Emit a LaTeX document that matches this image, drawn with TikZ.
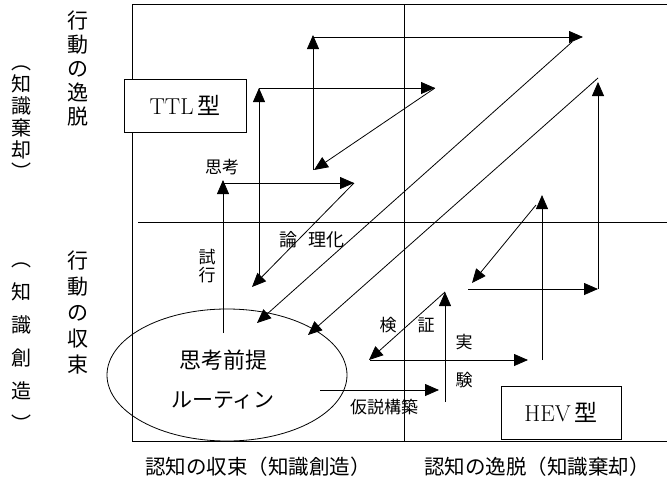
\documentclass[tikz,border=0pt]{standalone}
\usepackage{fontspec}
\newfontfamily\jp{Noto Sans CJK JP}
\usetikzlibrary{arrows.meta,shapes.geometric}
\begin{document}
\begin{tikzpicture}[x=1pt,y=-1pt,
  ln/.style={line width=0.8pt,black},
  arr/.style={ln,-{Triangle[length=14pt,width=12pt]}},
  boxnode/.style={draw,fill=white,line width=0.8pt,inner sep=0pt,minimum width=122pt,minimum height=53pt,font=\fontsize{23}{23}\selectfont},
  lab/.style={inner sep=0pt,font=\jp\fontsize{17}{17}\selectfont},
  biglab/.style={inner sep=0pt,font=\jp\fontsize{22}{22}\selectfont},
  vlab/.style={inner sep=0pt,align=center,font=\jp\fontsize{21}{24}\selectfont},
  plab/.style={inner sep=0pt,align=center,font=\jp\fontsize{20}{22}\selectfont},
  axlab/.style={inner sep=0pt,anchor=west,font=\jp\fontsize{20.5}{20.5}\selectfont}]
\useasboundingbox (0,0) rectangle (667,485);
% frame and dividers
\coordinate (ftr) at (667,4);
\coordinate (ftl) at (132,4);
\coordinate (fbl) at (132,441);
\coordinate (fbr) at (667,441);
\coordinate (vdt) at (404,4);
\coordinate (vdb) at (404,441);
\coordinate (hdl) at (138,222);
\coordinate (hdr) at (667,222);
\draw[ln] (ftr) -- (ftl) -- (fbl) -- (fbr);
\draw[ln] (vdt) -- (vdb);
\draw[ln] (hdl) -- (hdr);
% boxes
\node[boxnode] (ttl) at (185,105.5) {TTL\,{\jp 型}};
\node[boxnode,minimum width=120pt] (hev) at (561,412.5) {HEV\,{\jp 型}};
% ellipse
\node[draw,ellipse,line width=0.8pt,minimum width=240pt,minimum height=132pt,inner sep=0pt] (el) at (227,375) {};
\node[biglab] (premise) at (223,360) {思考前提};
\node[biglab,font=\jp\fontsize{21}{21}\selectfont] (routine) at (223,400) {ルーティン};
% coordinates
\coordinate (a1) at (223,333);
\coordinate (a2) at (223,180);
\coordinate (b1) at (223,183);
\coordinate (b2) at (354,183);
\coordinate (c2) at (252,287);
\coordinate (d1) at (259,275);
\coordinate (d2) at (259,88);
\coordinate (e2) at (435,88);
\coordinate (f2) at (314,170);
\coordinate (g1) at (313,170);
\coordinate (g2) at (313,35);
\coordinate (h1) at (313,37);
\coordinate (h2) at (583,37);
\coordinate (i1) at (572,42);
\coordinate (i2) at (257,323);
\coordinate (j1) at (598,78);
\coordinate (j2) at (308,335);
\coordinate (k1) at (320,390);
\coordinate (k2) at (439,390);
\coordinate (l1) at (445,402);
\coordinate (l2) at (445,292);
\coordinate (m2) at (369,360);
\coordinate (n1) at (370,360);
\coordinate (n2) at (528,360);
\coordinate (o1) at (542,360);
\coordinate (o2) at (542,195);
\coordinate (p1) at (536,205);
\coordinate (p2) at (472,283);
\coordinate (q1) at (468,289);
\coordinate (q2) at (598,289);
\coordinate (r2) at (598,82);
% arrows
\draw[arr] (a1) -- (a2);
\draw[arr] (b1) -- (b2);
\draw[arr] (b2) -- (c2);
\draw[arr] (d1) -- (d2);
\draw[arr] (d2) -- (e2);
\draw[arr] (e2) -- (f2);
\draw[arr] (g1) -- (g2);
\draw[arr] (h1) -- (h2);
\draw[arr] (i1) -- (i2);
\draw[arr] (j1) -- (j2);
\draw[arr] (k1) -- (k2);
\draw[arr] (l1) -- (l2);
\draw[arr] (l2) -- (m2);
\draw[arr] (n1) -- (n2);
\draw[arr] (o1) -- (o2);
\draw[arr] (p1) -- (p2);
\draw[arr] (q1) -- (q2);
\draw[arr] (q2) -- (r2);
% small labels
\node[lab] (think) at (222,167) {思考};
\node[lab,align=center,font=\jp\fontsize{17}{18}\selectfont] (trial) at (207,266) {試\\行};
\node[lab,font=\jp\fontsize{18}{18}\selectfont] (ron) at (288,240) {論};
\node[lab,font=\jp\fontsize{18}{18}\selectfont] (rika) at (326,240) {理化};
\node[lab] (ken) at (388,325) {検};
\node[lab] (sho) at (426,325) {証};
\node[lab] (jitsu) at (464,342) {実};
\node[lab] (ken2) at (464,380) {験};
\node[lab] (hypo) at (384,407) {仮説構築};
% side labels
\node[vlab] (dev) at (78,69) {行\\動\\の\\逸\\脱};
\node[vlab,font=\jp\fontsize{21}{26}\selectfont] (conv) at (78,313) {行\\動\\の\\収\\束};
\node[plab] (disc) at (22,123) {︵\\知\\識\\棄\\却\\︶};
\node[plab,font=\jp\fontsize{20}{33}\selectfont] (crea) at (22,347) {︵\\知\\識\\創\\造\\︶};
% bottom labels
\node[axlab] (xconv) at (145,467) {認知の収束（知識創造）};
\node[axlab] (xdev) at (424,467) {認知の逸脱（知識棄却）};
\end{tikzpicture}
\end{document}
